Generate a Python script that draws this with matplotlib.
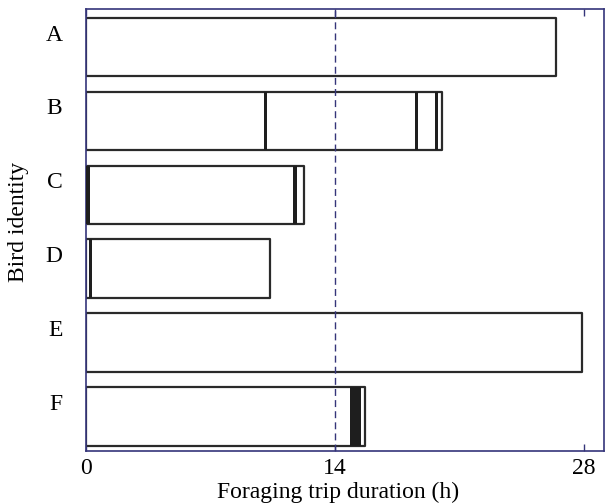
import matplotlib
matplotlib.use('Agg')
import matplotlib.pyplot as plt
from matplotlib.transforms import ScaledTranslation

plt.rcParams['font.family'] = ['Liberation Serif', 'DejaVu Serif']

# Trip durations (h) per bird and the black event periods inside each trip
birds = ['A', 'B', 'C', 'D', 'E', 'F']
trip_end = [26.43, 20.04, 12.26, 10.35, 27.89, 15.69]
events = [
    [],
    [(10.02, 0.18), (18.47, 0.18), (19.60, 0.18)],
    [(0.03, 0.20), (11.65, 0.22)],
    [(0.17, 0.18)],
    [],
    [(14.84, 0.62)],
]
ref_line = 14
x_ticks = [0, 14, 28]

frame_col = '#35357a'

fig = plt.figure(figsize=(6.14, 5.04), dpi=100)
ax = fig.add_axes([0.140, 0.105, 0.8437, 0.877])

bar_h = 0.79
for i, (end, ev) in enumerate(zip(trip_end, events)):
    ax.broken_barh([(0, end)], (i - bar_h / 2, bar_h), facecolors='white',
                   edgecolors='#2a2a2a', linewidth=1.6, zorder=2)
    if ev:
        ax.broken_barh(ev, (i - bar_h / 2, bar_h), facecolors='#1e1e1e',
                       edgecolors='none', zorder=3)

ax.axvline(ref_line, color=frame_col, linestyle=(0, (5, 3)), linewidth=1.0, zorder=4)

ax.set_xlim(0, 29.12)
ax.set_ylim(5.47, -0.515)
ax.set_xticks(x_ticks)
ax.set_xticklabels([str(t) for t in x_ticks])
ax.set_yticks(range(len(birds)))
ax.set_yticklabels(birds)

ax.tick_params(axis='x', direction='in', top=True, length=5, width=1.0,
               color=frame_col, labelsize=17, pad=5)
ax.tick_params(axis='y', length=0, labelsize=17, pad=17)

# letters sit near the top of each bar
shift = ScaledTranslation(0, 0.145, fig.dpi_scale_trans)
for lab in ax.get_yticklabels():
    lab.set_transform(lab.get_transform() + shift)

for sp in ax.spines.values():
    sp.set_color(frame_col)
    sp.set_linewidth(1.2)

ax.set_xlabel('Foraging trip duration (h)', fontsize=17)
ax.set_ylabel('Bird identity', fontsize=17)
ax.xaxis.set_label_coords(0.486, -0.07)
ax.yaxis.set_label_coords(-0.110, 0.518)

fig.savefig('out.png', dpi=100)
